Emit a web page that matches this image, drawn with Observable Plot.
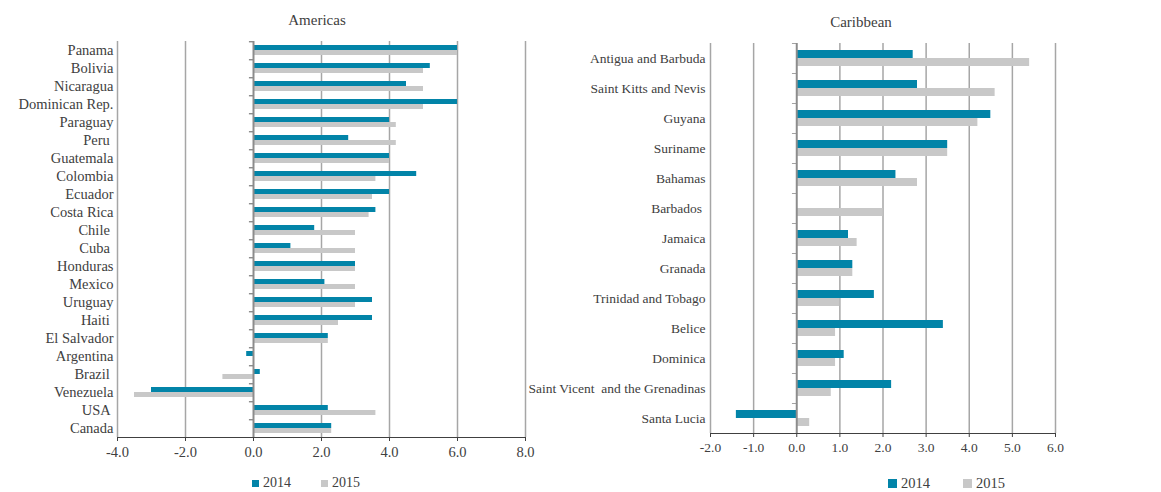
<!DOCTYPE html>
<html><head><meta charset="utf-8">
<script src="https://cdn.jsdelivr.net/npm/d3@7"></script>
<script src="https://cdn.jsdelivr.net/npm/@observablehq/plot@0.6"></script>
<style>
body{margin:0;background:#fff;}
#wrap{position:relative;width:1161px;height:492px;overflow:hidden;font-family:"Liberation Serif",serif;color:#404040}
#wrap svg{position:absolute;top:0}
.t{position:absolute;font-size:15px;line-height:18px;transform:translateX(-50%);white-space:nowrap}
.li{position:absolute;display:flex;align-items:center;line-height:16px;white-space:nowrap}
.sw{display:inline-block;margin-right:4px}
</style></head><body><div id="wrap"></div>
<script>
const amCountries = ["Panama","Bolivia","Nicaragua","Dominican Rep.","Paraguay","Peru ","Guatemala","Colombia","Ecuador","Costa Rica","Chile ","Cuba ","Honduras","Mexico","Uruguay","Haiti ","El Salvador","Argentina","Brazil ","Venezuela","USA ","Canada"];
const am2014 = [6.0,5.2,4.5,6.0,4.0,2.8,4.0,4.8,4.0,3.6,1.8,1.1,3.0,2.1,3.5,3.5,2.2,-0.2,0.2,-3.0,2.2,2.3];
const am2015 = [6.0,5.0,5.0,5.0,4.2,4.2,4.0,3.6,3.5,3.4,3.0,3.0,3.0,3.0,3.0,2.5,2.2,0.0,-0.9,-3.5,3.6,2.3];
const amTicks = [-4,-2,0,2,4,6,8];

const caCountries = ["Antigua and Barbuda","Saint Kitts and Nevis","Guyana","Suriname","Bahamas","Barbados ","Jamaica","Granada","Trinidad and Tobago","Belice","Dominica","Saint Vicent  and the Grenadinas","Santa Lucia"];
const ca2014 = [2.7,2.8,4.5,3.5,2.3,null,1.2,1.3,1.8,3.4,1.1,2.2,-1.4];
const ca2015 = [5.4,4.6,4.2,3.5,2.8,2.0,1.4,1.3,1.0,0.9,0.9,0.8,0.3];
const caTicks = [-2,-1,0,1,2,3,4,5,6];

const years = ["2014","2015"];
const colors = ["#0284a8","#c8c8c8"];

function chart(countries, v14, v15, ticks, o) {
  const data = countries.flatMap((c, i) => [
    {country: c, year: years[0], value: v14[i]},
    {country: c, year: years[1], value: v15[i]}
  ]).filter(d => d.value != null);
  const band = (o.height - o.marginTop - o.marginBottom) / countries.length;
  return Plot.plot({
    width: o.width, height: o.height,
    marginLeft: o.marginLeft, marginRight: o.marginRight,
    marginTop: o.marginTop, marginBottom: o.marginBottom,
    style: {fontFamily: '"Liberation Serif", serif', fontSize: o.fs + "px", color: "#404040", background: "transparent", overflow: "visible"},
    x: {domain: [ticks[0], ticks[ticks.length - 1]], ticks, tickFormat: d => d.toFixed(1), tickSize: 4, line: true, label: null},
    y: {domain: years, axis: null, paddingInner: 0, paddingOuter: o.po},
    fy: {domain: countries, padding: 0, axis: "left", label: null, tickSize: 0, tickPadding: o.tp},
    color: {domain: years, range: colors},
    marks: [
      Plot.ruleX(ticks.filter(t => t !== 0), {stroke: "#a6a6a6", strokeWidth: 1.5}),
      Plot.barX(data, {x: "value", y: "year", fy: "country", fill: "year"}),
      Plot.ruleX([0], {stroke: "#8c8c8c", strokeWidth: 2}),
      Plot.rect([0], {x1: d => d - o.tick, x2: d => d, insetBottom: band - 1.5, fill: "#8c8c8c"})
    ]
  });
}

const wrap = document.getElementById("wrap");
const left = chart(amCountries, am2014, am2015, amTicks, {width: 545, height: 460, marginLeft: 117, marginRight: 20, marginTop: 40, marginBottom: 22, fs: 14.5, tp: 4, po: 0.74, tick: 0.12});
left.style.left = "0px";
wrap.appendChild(left);
const right = chart(caCountries, ca2014, ca2015, caTicks, {width: 616, height: 460, marginLeft: 165, marginRight: 106, marginTop: 38, marginBottom: 23, fs: 13.5, tp: 5, po: 0.85, tick: 0.1});
right.style.left = "545px";
wrap.appendChild(right);

function add(html, cls, css) {
  const d = document.createElement("div");
  d.className = cls; d.innerHTML = html;
  Object.assign(d.style, css);
  wrap.appendChild(d);
}
add("Americas", "t", {left: "317px", top: "11px"});
add("Caribbean", "t", {left: "861px", top: "13px"});
function legendItem(x, y, size, fs, color, label) {
  add(`<span class="sw" style="width:${size}px;height:${size}px;background:${color}"></span>${label}`, "li", {left: x + "px", top: y + "px", fontSize: fs + "px"});
}
legendItem(252, 475, 7, 14, colors[0], years[0]);
legendItem(321, 475, 7, 14, colors[1], years[1]);
legendItem(888, 475, 9, 14.5, colors[0], years[0]);
legendItem(963, 475, 9, 14.5, colors[1], years[1]);
</script></body></html>
